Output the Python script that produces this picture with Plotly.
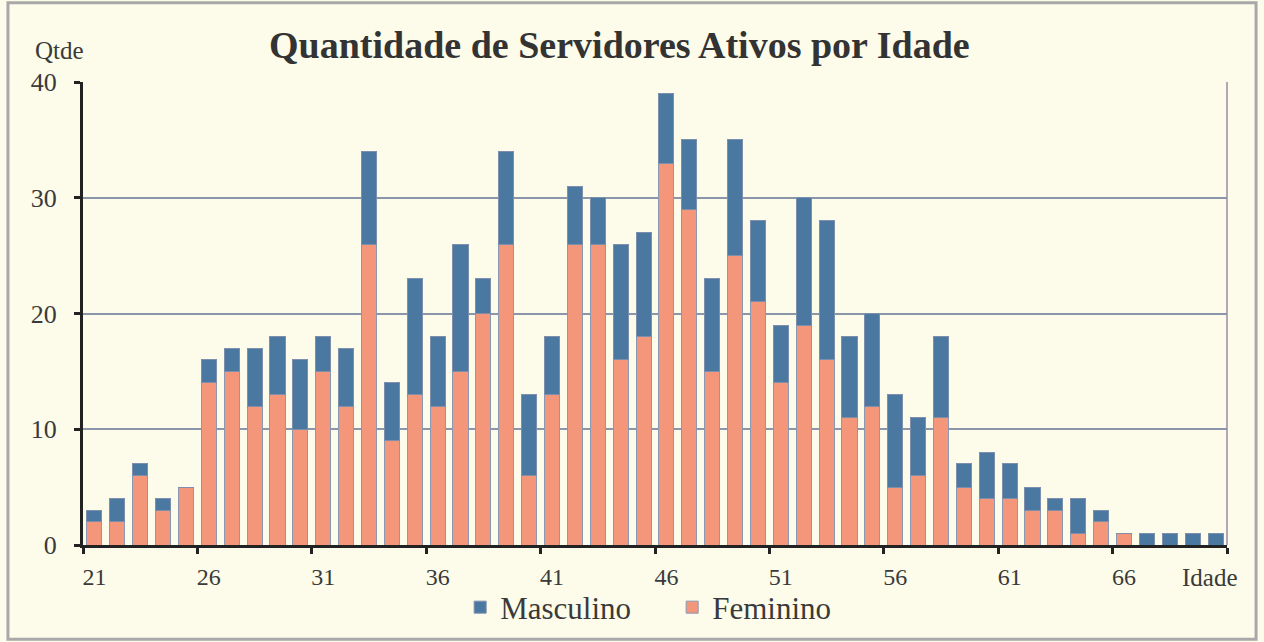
import plotly.graph_objects as go

ages = list(range(21, 71))
feminino = [2, 2, 6, 3, 5, 14, 15, 12, 13, 10,
            15, 12, 26, 9, 13, 12, 15, 20, 26, 6,
            13, 26, 26, 16, 18, 33, 29, 15, 25, 21,
            14, 19, 16, 11, 12, 5, 6, 11, 5, 4,
            4, 3, 3, 1, 2, 1, 0, 0, 0, 0]
total = [3, 4, 7, 4, 5, 16, 17, 17, 18, 16,
         18, 17, 34, 14, 23, 18, 26, 23, 34, 13,
         18, 31, 30, 26, 27, 39, 35, 23, 35, 28,
         19, 30, 28, 18, 20, 13, 11, 18, 7, 8,
         7, 5, 4, 4, 3, 1, 1, 1, 1, 1]
masculino = [t - f for t, f in zip(total, feminino)]
tick_labels = [21, 26, 31, 36, 41, 46, 51, 56, 61, 66]

SERIF = "Liberation Serif, Times New Roman, serif"
TXT = "#3a3a3a"
BG = "#FDFCEA"

fig = go.Figure()
fig.add_trace(go.Bar(x=ages, y=feminino, name="Feminino", legendrank=2,
                     marker=dict(color="#F4967A", line=dict(color="#8A98B4", width=1))))
fig.add_trace(go.Bar(x=ages, y=masculino, name="Masculino", legendrank=1,
                     marker=dict(color="#4A78A0", line=dict(color="#7E8FAE", width=1))))

minor_ticks = [a - 0.5 for a in tick_labels] + [70.5]

fig.update_layout(
    barmode="stack", bargap=0.34,
    width=1264, height=642,
    margin=dict(l=83, r=37, t=82, b=97, autoexpand=False),
    paper_bgcolor=BG, plot_bgcolor=BG,
    font=dict(family=SERIF, color=TXT, size=24),
    title=dict(text="<b>Quantidade de Servidores Ativos por Idade</b>",
               x=0.49, xanchor="center", y=0.93, yanchor="middle",
               font=dict(family=SERIF, size=38, color="#333333")),
    legend=dict(orientation="h", x=0.515, xanchor="center", y=-0.135, yanchor="middle",
                traceorder="normal", entrywidth=167,
                font=dict(family=SERIF, size=31, color=TXT), bgcolor="rgba(0,0,0,0)",
                itemwidth=30),
    xaxis=dict(range=[20.5, 70.5], tickmode="array", tickvals=tick_labels,
               ticktext=[str(t) for t in tick_labels], ticks="",
               showgrid=False, zeroline=False, showline=True, linewidth=3, linecolor="#222222",
               tickfont=dict(size=24, color=TXT), ticklabelstandoff=8,
               minor=dict(tickmode="array", tickvals=minor_ticks, ticks="outside",
                          ticklen=6, tickwidth=3, tickcolor="#222222", showgrid=False)),
    yaxis=dict(range=[0, 40], tickmode="array", tickvals=[0, 10, 20, 30, 40],
               ticks="outside", ticklen=6, tickwidth=3, tickcolor="#222222",
               showline=True, linewidth=3, linecolor="#222222",
               showgrid=True, gridcolor="#8C96AA", gridwidth=1.5, zeroline=False,
               tickfont=dict(size=26, color=TXT), ticklabelstandoff=12),
    showlegend=True,
)

# right border of plot area
fig.add_shape(type="line", xref="paper", yref="paper", x0=1, x1=1, y0=0, y1=1,
              line=dict(color="#9A8AA6", width=1.5))
# outer frame
fig.add_shape(type="rect", xref="paper", yref="paper",
              x0=-0.0656, x1=1.0254, y0=-0.2035, y1=1.171,
              line=dict(color="#A8A8A8", width=3), layer="below")

fig.add_annotation(text="Qtde", xref="paper", yref="paper", x=-0.0205, y=1.067,
                   xanchor="center", yanchor="middle",
                   showarrow=False, font=dict(family=SERIF, size=25, color=TXT))
fig.add_annotation(text="Idade", xref="paper", yref="paper", x=0.985, y=-0.071,
                   xanchor="center", yanchor="middle",
                   showarrow=False, font=dict(family=SERIF, size=25, color=TXT))

fig.write_html("out.html", post_script="document.body.style.margin='0';",
               config={"displayModeBar": False})
